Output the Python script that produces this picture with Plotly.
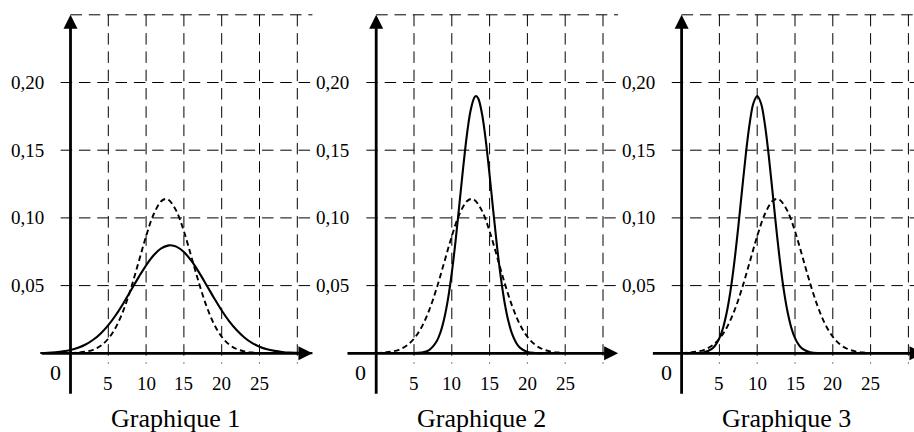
import plotly.graph_objects as go

# ---------------- data ----------------
x_dash = [0, 1, 2, 3, 4, 5, 6, 7, 8, 9, 10, 11, 12, 12.6, 13, 14, 15, 16, 17, 18, 19, 20,
          21, 22, 23, 24, 25, 26]
y_dash = [0.0002, 0.0005, 0.0012, 0.0026, 0.0056, 0.0108, 0.0193, 0.0317, 0.0481, 0.0672,
          0.0865, 0.1027, 0.1123, 0.1140, 0.1133, 0.1052, 0.0901, 0.0711, 0.0517, 0.0347,
          0.0214, 0.0122, 0.0064, 0.0031, 0.0014, 0.0006, 0.0002, 0.0001]

x_solid1 = [-4, -3, -2, -1, 0, 1, 2, 3, 4, 5, 6, 7, 8, 9, 10, 11, 12, 13, 13.2, 14, 15, 16,
            17, 18, 19, 20, 21, 22, 23, 24, 25, 26, 27, 28, 29, 30, 31, 32]
y_solid1 = [0.0002, 0.0004, 0.0008, 0.0014, 0.0024, 0.0041, 0.0065, 0.0100, 0.0147, 0.0208,
            0.0283, 0.0370, 0.0465, 0.0561, 0.0650, 0.0724, 0.0775, 0.0797, 0.0798, 0.0788,
            0.0748, 0.0682, 0.0598, 0.0503, 0.0407, 0.0316, 0.0236, 0.0170, 0.0117, 0.0077,
            0.0049, 0.0030, 0.0018, 0.0010, 0.0005, 0.0003, 0.0001, 0.0001]

x_solid2 = [5, 6, 7, 8, 8.5, 9, 9.5, 10, 10.5, 11, 11.5, 12, 12.5, 13, 13.2, 13.5, 14, 14.5,
            15, 15.5, 16, 16.5, 17, 17.5, 18, 18.5, 19, 20, 21, 22]
y_solid2 = [0.0001, 0.0005, 0.0024, 0.0089, 0.0155, 0.0257, 0.0402, 0.0595, 0.0831, 0.1098,
            0.1369, 0.1614, 0.1797, 0.1891, 0.1900, 0.1881, 0.1767, 0.1569, 0.1316, 0.1043,
            0.0781, 0.0553, 0.0370, 0.0234, 0.0139, 0.0079, 0.0042, 0.0010, 0.0002, 0.0000]

x_solid3 = [2, 3, 4, 4.5, 5, 5.5, 6, 6.5, 7, 7.5, 8, 8.5, 9, 9.5, 10, 10.5, 11, 11.5, 12,
            12.5, 13, 13.5, 14, 14.5, 15, 15.5, 16, 17, 18]
y_solid3 = [0.0001, 0.0007, 0.0032, 0.0062, 0.0112, 0.0191, 0.0310, 0.0474, 0.0685, 0.0935,
            0.1207, 0.1472, 0.1696, 0.1847, 0.1900, 0.1847, 0.1696, 0.1472, 0.1207, 0.0935,
            0.0685, 0.0474, 0.0310, 0.0191, 0.0112, 0.0062, 0.0032, 0.0007, 0.0001]

panel_titles = ["Graphique 1", "Graphique 2", "Graphique 3"]
x_tick_vals = [5, 10, 15, 20, 25]
x_grid_vals = [5, 10, 15, 20, 25, 30]
y_tick_vals = [0.05, 0.10, 0.15, 0.20]
y_tick_text = ["0,05", "0,10", "0,15", "0,20"]
y_top = 0.25
x_axis_start, x_axis_end = -4, 32
y_axis_start = -0.031

# ---------------- geometry ----------------
W, H = 914, 432
PX_PER_X = 7.56
Y0_PX = 353.3
PX_PER_Y = 1354.0
AXIS_PX = [70.5, 376.2, 681.6]
FONT = "Liberation Serif"
GRID_DASH = "11.5px,6.8px"

fig = go.Figure()
layout_axes = {}
shapes = []
annotations = []
solids = [(x_solid1, y_solid1), (x_solid2, y_solid2), (x_solid3, y_solid3)]

for i, p in enumerate(AXIS_PX):
    suffix = "" if i == 0 else str(i + 1)
    xa = "x" + suffix
    left_px = max(0.0, p - 70.5)
    right_px = min(W, p + 250.0)
    layout_axes["xaxis" + suffix] = dict(
        domain=[left_px / W, right_px / W],
        range=[(left_px - p) / PX_PER_X, (right_px - p) / PX_PER_X],
        visible=False, anchor="y", fixedrange=True)

    # grid
    for gx in x_grid_vals:
        shapes.append(dict(type="line", xref=xa, yref="y", x0=gx, x1=gx, y0=y_top, y1=-0.0075,
                           line=dict(color="black", width=1, dash=GRID_DASH), layer="below"))
    for gy in y_tick_vals:
        shapes.append(dict(type="line", xref=xa, yref="y", x0=-1.3, x1=x_axis_end, y0=gy, y1=gy,
                           line=dict(color="black", width=1, dash=GRID_DASH), layer="below"))
    shapes.append(dict(type="line", xref=xa, yref="y", x0=0, x1=x_axis_end, y0=y_top, y1=y_top,
                       line=dict(color="black", width=1, dash=GRID_DASH), layer="below"))

    # curves
    fig.add_trace(go.Scatter(x=x_dash, y=y_dash, xaxis=xa, yaxis="y", mode="lines",
                             line=dict(color="black", width=1.9, dash="5.5px,3.5px", shape="spline"),
                             hoverinfo="skip", showlegend=False))
    xs, ys = solids[i]
    fig.add_trace(go.Scatter(x=xs, y=ys, xaxis=xa, yaxis="y", mode="lines",
                             line=dict(color="black", width=2.1, shape="spline"),
                             hoverinfo="skip", showlegend=False))

    # axes with arrows
    annotations.append(dict(x=0, y=y_top, ax=0, ay=y_axis_start, xref=xa, yref="y",
                            axref=xa, ayref="y", showarrow=True, arrowhead=2, arrowsize=1,
                            arrowwidth=2.8, arrowcolor="black", text=""))
    annotations.append(dict(x=x_axis_end, y=0, ax=x_axis_start, ay=0, xref=xa, yref="y",
                            axref=xa, ayref="y", showarrow=True, arrowhead=2, arrowsize=1,
                            arrowwidth=2.8, arrowcolor="black", text=""))

    # tick labels
    for v in x_tick_vals:
        annotations.append(dict(x=v, y=-0.0222, xref=xa, yref="y", text=str(v), showarrow=False,
                                font=dict(family=FONT, size=19, color="black"),
                                xanchor="center", yanchor="middle"))
    for v, t in zip(y_tick_vals, y_tick_text):
        annotations.append(dict(x=-3.3, y=v, xref=xa, yref="y", text=t, showarrow=False,
                                font=dict(family=FONT, size=19, color="black"),
                                xanchor="right", yanchor="middle"))
    annotations.append(dict(x=-2.05, y=-0.0142, xref=xa, yref="y", text="0", showarrow=False,
                            font=dict(family=FONT, size=22, color="black"),
                            xanchor="center", yanchor="middle"))
    annotations.append(dict(x=13.9, y=-0.0478, xref=xa, yref="y", text=panel_titles[i],
                            showarrow=False, font=dict(family=FONT, size=26, color="black"),
                            xanchor="center", yanchor="middle"))

fig.update_layout(
    width=W, height=H,
    margin=dict(l=0, r=0, t=0, b=0),
    paper_bgcolor="white", plot_bgcolor="rgba(0,0,0,0)",
    yaxis=dict(domain=[0, 1], range=[-(H - Y0_PX) / PX_PER_Y, Y0_PX / PX_PER_Y],
               visible=False, fixedrange=True),
    shapes=shapes, annotations=annotations,
    **layout_axes,
)

fig.write_html("out.html", config={"displayModeBar": False},
               post_script="document.body.style.margin='0';document.body.style.overflow='hidden';")
